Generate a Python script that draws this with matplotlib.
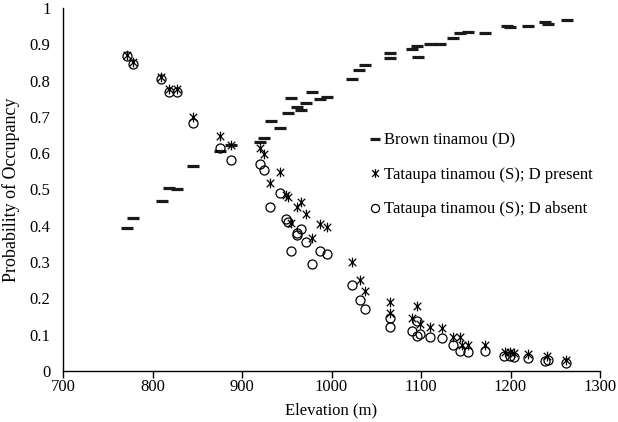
import matplotlib
matplotlib.use("Agg")
import matplotlib.pyplot as plt
from matplotlib.path import Path
from matplotlib.ticker import FuncFormatter, MultipleLocator

# Brown tinamou (D)
d_elev = [771, 778, 811, 818, 827, 845, 875, 888, 920, 925, 932, 942, 951, 955,
          961, 966, 972, 978, 987, 995, 1023, 1031, 1037, 1065, 1065, 1090, 1096,
          1097, 1110, 1121, 1136, 1144, 1152, 1171, 1196, 1199, 1220, 1238, 1242, 1263]
d_prob = [0.394, 0.421, 0.468, 0.504, 0.501, 0.566, 0.607, 0.623, 0.631, 0.642, 0.689,
          0.669, 0.711, 0.752, 0.727, 0.719, 0.738, 0.769, 0.749, 0.755, 0.804, 0.829,
          0.843, 0.876, 0.862, 0.887, 0.895, 0.865, 0.900, 0.900, 0.917, 0.931, 0.934,
          0.931, 0.950, 0.947, 0.950, 0.961, 0.956, 0.967]

# Tataupa tinamou (S); D present
sp_elev = [771, 778, 810, 818, 827, 845, 875, 888, 920, 925, 942, 931, 949, 951, 966,
           961, 972, 955, 987, 995, 978, 1023, 1032, 1037, 1065, 1065, 1096, 1090, 1099,
           1110, 1123, 1136, 1144, 1146, 1153, 1171, 1194, 1199, 1204, 1220, 1241, 1262]
sp_prob = [0.870, 0.850, 0.810, 0.778, 0.778, 0.700, 0.648, 0.622, 0.614, 0.598, 0.548,
           0.518, 0.485, 0.480, 0.466, 0.452, 0.433, 0.407, 0.405, 0.397, 0.366, 0.300,
           0.250, 0.220, 0.190, 0.160, 0.180, 0.146, 0.130, 0.121, 0.118, 0.094, 0.094,
           0.073, 0.072, 0.072, 0.053, 0.053, 0.050, 0.048, 0.040, 0.030]

# Tataupa tinamou (S); D absent
sa_elev = [771, 778, 810, 818, 827, 845, 875, 888, 920, 925, 942, 931, 949, 951, 966,
           961, 962, 972, 955, 987, 995, 978, 1023, 1032, 1037, 1065, 1065, 1096, 1090,
           1095, 1099, 1110, 1123, 1136, 1144, 1152, 1171, 1193, 1199, 1204, 1220, 1238,
           1242, 1262]
sa_prob = [0.868, 0.845, 0.805, 0.768, 0.768, 0.683, 0.615, 0.581, 0.571, 0.553, 0.490,
           0.452, 0.419, 0.410, 0.390, 0.380, 0.375, 0.355, 0.330, 0.330, 0.322, 0.295,
           0.237, 0.196, 0.172, 0.145, 0.121, 0.138, 0.111, 0.097, 0.101, 0.094, 0.090,
           0.072, 0.055, 0.053, 0.055, 0.040, 0.040, 0.038, 0.036, 0.028, 0.030, 0.022]

labels = ["Brown tinamou (D)", "Tataupa tinamou (S); D present", "Tataupa tinamou (S); D absent"]

plt.rcParams['font.family'] = ['Liberation Serif', 'DejaVu Serif']

fig = plt.figure(figsize=(6.18, 4.22), dpi=100)
ax = fig.add_axes([63/618, 51/422, 537/618, 363/422])

star = Path([(-1, -1), (1, 1), (-1, 1), (1, -1), (0, -1.3), (0, 1.3)],
            [Path.MOVETO, Path.LINETO, Path.MOVETO, Path.LINETO, Path.MOVETO, Path.LINETO])

ax.plot(d_elev, d_prob, linestyle='none', marker='_', markersize=8,
        markeredgewidth=2.3, color='#1a1a1a', label=labels[0], zorder=3)
ax.plot(sp_elev, sp_prob, linestyle='none', marker=star, markersize=7,
        markeredgewidth=0.9, color='black', label=labels[1], zorder=3)
ax.plot(sa_elev, sa_prob, linestyle='none', marker='o', markersize=6.5,
        markerfacecolor='none', markeredgewidth=0.9, markeredgecolor='black',
        label=labels[2], zorder=3)

ax.set_xlim(700, 1300)
ax.set_ylim(0, 1)
ax.xaxis.set_major_locator(MultipleLocator(100))
ax.yaxis.set_major_locator(MultipleLocator(0.1))
ax.yaxis.set_major_formatter(FuncFormatter(lambda v, p: f"{v:.1f}".rstrip('0').rstrip('.') if v not in (0, 1) else f"{int(round(v))}"))

for s in ['top', 'right']:
    ax.spines[s].set_visible(False)
ax.spines['left'].set_linewidth(1.0)
ax.spines['bottom'].set_linewidth(1.0)
ax.tick_params(axis='x', direction='out', length=5, width=1.0, labelsize=12, pad=1)
ax.tick_params(axis='y', length=0, labelsize=12, pad=9)

ax.set_xlabel("Elevation (m)", fontsize=12, labelpad=5)
ax.set_ylabel("Probability of Occupancy", fontsize=13, labelpad=7)

leg = ax.legend(loc='upper left', bbox_to_anchor=(362/618, 1 - 126/422),
                bbox_transform=fig.transFigure, frameon=False, fontsize=12,
                handlelength=0.8, handletextpad=0.15, labelspacing=1.1,
                borderaxespad=0, markerscale=0.9)

fig.savefig("out.png", dpi=100)
